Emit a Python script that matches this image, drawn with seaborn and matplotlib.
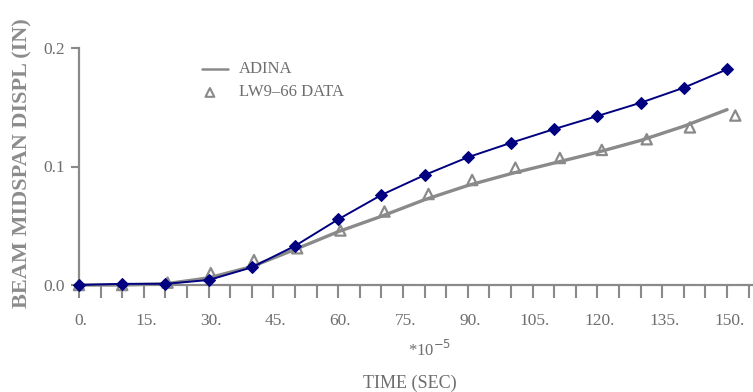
import matplotlib
matplotlib.use("Agg")
import matplotlib.pyplot as plt
import seaborn as sns
import pandas as pd
import numpy as np

# ---- data ----
time_blue = [0, 10, 20, 30, 40, 50, 60, 70, 80, 90, 100, 110, 120, 130, 140, 150]
displ_blue = [0.0, 0.001, 0.001, 0.0042, 0.0149, 0.033, 0.0554, 0.076, 0.0928, 0.1078,
              0.120, 0.1316, 0.1426, 0.1538, 0.1665, 0.182]

time_adina = [0, 10, 20, 30, 40, 50, 60, 70, 80, 90, 100, 110, 120, 130, 140, 150]
displ_adina = [0.0, 0.0, 0.001, 0.006, 0.0155, 0.030, 0.045, 0.058, 0.072, 0.084,
               0.094, 0.103, 0.112, 0.122, 0.134, 0.148]

time_test = [0, 10, 20.5, 30.5, 40.5, 50.5, 60.5, 70.7, 80.9, 91, 101, 111.3, 121, 131.4, 141.4, 151.9]
displ_test = [0.0, 0.0, 0.002, 0.010, 0.021, 0.031, 0.046, 0.062, 0.0768, 0.0886,
              0.099, 0.1072, 0.114, 0.123, 0.133, 0.143]

xticks = [0, 15, 30, 45, 60, 75, 90, 105, 120, 135, 150]
xtick_labels = ["0.", "15.", "30.", "45.", "60.", "75.", "90.", "105.", "120.", "135.", "150."]
yticks = [0.0, 0.1, 0.2]
ytick_labels = ["0.0", "0.1", "0.2"]

df_blue = pd.DataFrame({"t": time_blue, "d": displ_blue})
df_adina = pd.DataFrame({"t": time_adina, "d": displ_adina})
df_test = pd.DataFrame({"t": time_test, "d": displ_test})

sns.set_style("white")
plt.rcParams["font.family"] = ["Liberation Serif", "DejaVu Serif"]

GRAY = "#8a8a8a"
TXT = "#6e6e6e"
BLUE = "#000080"

fig = plt.figure(figsize=(7.53, 3.92), dpi=100)
ax = fig.add_axes([79 / 753, (392 - 285) / 392, 1 - 79 / 753, (285 - 48) / 392])

sns.lineplot(data=df_adina, x="t", y="d", ax=ax, color=GRAY, linewidth=2.4, clip_on=False)
sns.scatterplot(data=df_test, x="t", y="d", ax=ax, marker="^", s=55, facecolor="none",
                edgecolor=GRAY, linewidth=1.6, clip_on=False, zorder=3)
sns.lineplot(data=df_blue, x="t", y="d", ax=ax, color=BLUE, linewidth=1.4, marker="D",
             markersize=6, markeredgecolor=BLUE, clip_on=False, zorder=4)

ax.set_xlim(0, 156)
ax.set_ylim(0, 0.2)
for s in ["top", "right"]:
    ax.spines[s].set_visible(False)
for s in ["left", "bottom"]:
    ax.spines[s].set_color(GRAY)
    ax.spines[s].set_linewidth(1.6)

ax.set_xticks(np.arange(0, 156, 5), minor=False)
ax.set_xticklabels([])
ax.tick_params(axis="x", which="major", direction="out", length=9, width=1.5, color=GRAY,
               bottom=True, labelbottom=False)
for xv, lab in zip(xticks, xtick_labels):
    ax.text(xv + 0.5, -0.0235, lab, ha="center", va="top", fontsize=12.5, color=TXT,
            transform=ax.transData)

ax.set_yticks(yticks)
ax.set_yticklabels(ytick_labels, fontsize=12.5, color=TXT)
ax.tick_params(axis="y", direction="out", length=6, width=1.5, color=GRAY, left=True, pad=4)

ax.set_xlabel("")
ax.set_ylabel("")
fig.text(22 / 753, 1 - 163 / 392, "BEAM MIDSPAN DISPL (IN)", rotation=90, ha="center",
         va="center", fontsize=16, fontweight="bold", color="#8c8c8c")
fig.text(430 / 753, 1 - 350 / 392, r"*10$^{-5}$", ha="center", va="center", fontsize=12, color=TXT)
fig.text(410 / 753, 1 - 383 / 392, "TIME (SEC)", ha="center", va="center", fontsize=13, color=TXT)

# legend (manual, matching the scanned chart)
ax.plot([28.5, 34.5], [0.182, 0.182], color=GRAY, linewidth=1.8, transform=ax.transData, clip_on=False)
ax.scatter([30.3], [0.1625], marker="^", s=40, facecolor="none", edgecolor=GRAY, linewidth=1.5)
ax.text(37, 0.182, "ADINA", va="center", ha="left", fontsize=12, color=TXT)
ax.text(37, 0.1625, "LW9\u201366 DATA", va="center", ha="left", fontsize=12, color=TXT)

fig.savefig("out.png", dpi=100)
